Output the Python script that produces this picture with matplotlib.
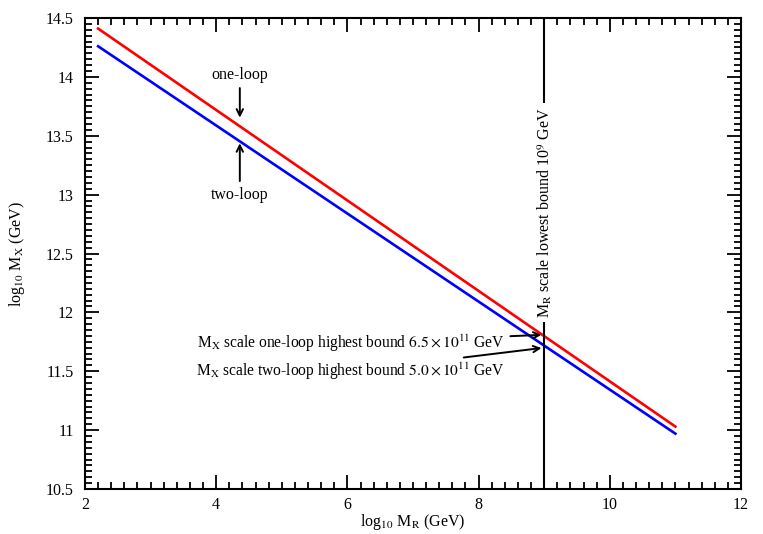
import numpy as np
import matplotlib
matplotlib.use("Agg")
import matplotlib.pyplot as plt
from matplotlib.ticker import MultipleLocator

plt.rcParams['font.family'] = ['Liberation Serif', 'DejaVu Serif']
plt.rcParams['mathtext.fontset'] = 'stix'

# end points of the two (straight) unification lines
mr = [2.2, 11.0]
mx_one = [14.41, 11.03]
mx_two = [14.26, 10.97]
mr_bound = 9.0
mx_one_bound = 11.81
mx_two_bound = 11.70

fs = 11.5
fig = plt.figure(figsize=(7.63, 5.34), dpi=100)
ax = fig.add_axes([85/763, 1 - 489/534, 656/763, 471/534])

ax.plot(mr, mx_one, color='red', lw=1.9)
ax.plot(mr, mx_two, color='blue', lw=1.9)

ax.axvline(mr_bound, color='black', lw=1.5)
ax.text(mr_bound, 12.85, r'M$_\mathrm{R}$ scale lowest bound 10$^9$ GeV',
        rotation=90, ha='center', va='center', fontsize=fs,
        bbox=dict(facecolor='white', edgecolor='none', pad=3))

arr = dict(arrowstyle='->', color='black', lw=1.4)
ax.annotate('one-loop', xy=(4.36, 13.63), xytext=(4.36, 14.02),
            ha='center', va='center', fontsize=fs, arrowprops=arr)
ax.annotate('two-loop', xy=(4.36, 13.46), xytext=(4.36, 13.0),
            ha='center', va='center', fontsize=fs, arrowprops=arr)
ax.annotate(r'M$_\mathrm{X}$ scale one-loop highest bound $6.5\times10^{11}$ GeV',
            xy=(mr_bound, mx_one_bound), xytext=(8.4, 11.74),
            ha='right', va='center', fontsize=11.2, arrowprops=arr)
ax.annotate(r'M$_\mathrm{X}$ scale two-loop highest bound $5.0\times10^{11}$ GeV',
            xy=(mr_bound, mx_two_bound), xytext=(8.4, 11.50),
            ha='right', va='center', fontsize=11.2, arrowprops=arr)

ax.set_xlim(2, 12)
ax.set_ylim(10.5, 14.5)
ax.xaxis.set_major_locator(MultipleLocator(2))
ax.xaxis.set_minor_locator(MultipleLocator(0.2))
ax.yaxis.set_minor_locator(MultipleLocator(0.05))
ax.set_yticks([10.5, 11, 11.5, 12, 12.5, 13, 13.5, 14, 14.5])
ax.set_yticklabels(['10.5', '11', '11.5', '12', '12.5', '13', '13.5', '14', '14.5'])
ax.tick_params(which='both', direction='in', top=True, right=True, labelsize=fs, width=1.3)
ax.tick_params(which='major', length=10, pad=8)
ax.tick_params(axis='x', which='major', pad=6)
ax.tick_params(which='minor', length=5)
for s in ax.spines.values():
    s.set_linewidth(1.5)

ax.set_xlabel(r'log$_{10}$ M$_\mathrm{R}$ (GeV)', fontsize=fs, labelpad=-1)
ax.set_ylabel(r'log$_{10}$ M$_\mathrm{X}$ (GeV)', fontsize=fs, labelpad=14)

fig.savefig('out.png', dpi=100)
